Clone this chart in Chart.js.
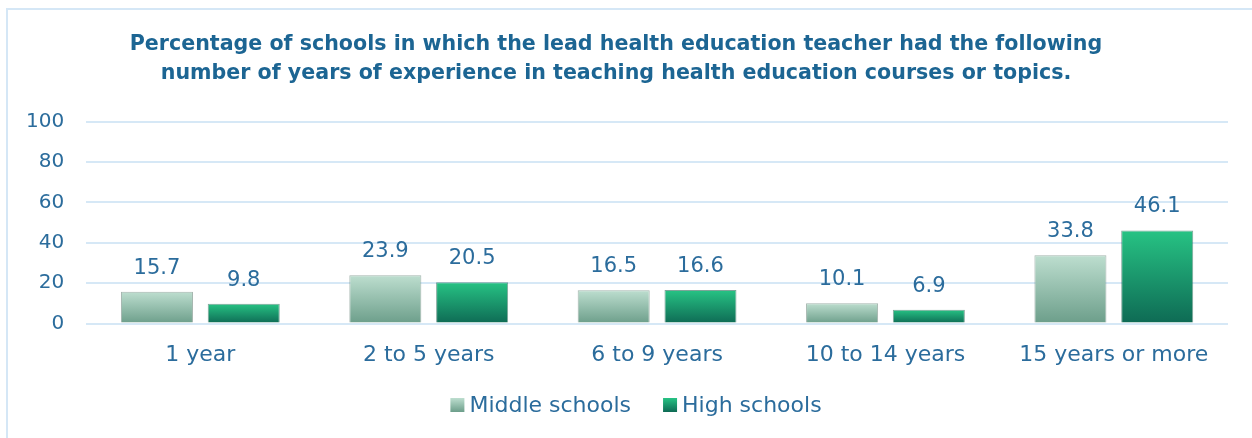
<!DOCTYPE html>
<html>
<head>
<meta charset="utf-8">
<script src="https://cdn.jsdelivr.net/npm/chart.js@4/dist/chart.umd.min.js"></script>
<style>
  html, body { margin: 0; padding: 0; background: #fff; }
  #wrap { position: relative; width: 1252px; height: 438px; }
  #frame { position: absolute; left: 6px; top: 8px; width: 1246px; height: 430px;
           border-left: 2px solid #d5e7f6; border-top: 2px solid #d5e7f6; box-sizing: border-box; }
  canvas { position: absolute; left: 0; top: 0; }
</style>
</head>
<body>
<div id="wrap">
  <div id="frame"></div>
  <canvas id="chart" width="1252" height="438"></canvas>
</div>
<script>
// Years of experience of the lead health education teacher
const categories = ['1 year', '2 to 5 years', '6 to 9 years', '10 to 14 years', '15 years or more'];
const middleSchools = [15.7, 23.9, 16.5, 10.1, 33.8];
const highSchools   = [9.8, 20.5, 16.6, 6.9, 46.1];
const seriesNames   = ['Middle schools', 'High schools'];
const yTicks = [0, 20, 40, 60, 80, 100];

const TEXT = '#2b6c9c';
const GRID = '#d6e8f6';
const BODY_FONT = "'DejaVu Sans', sans-serif";

// top/bottom colour stops for each series
const STOPS = [
  ['#bddecf', '#6c9e8a'],
  ['#27c384', '#0e6a54'],
];

function vGradient(ctx, top, bottom, stops) {
  const g = ctx.createLinearGradient(0, top, 0, bottom);
  g.addColorStop(0, stops[0]);
  g.addColorStop(1, stops[1]);
  return g;
}

// each bar fades from its own top down to the baseline
function barFill(idx) {
  return (c) => {
    const y = c.chart.scales.y;
    if (!y || c.raw == null) return STOPS[idx][0];
    const top = y.getPixelForValue(c.raw);
    const base = y.getPixelForValue(0);
    if (!isFinite(top) || !isFinite(base) || top === base) return STOPS[idx][0];
    return vGradient(c.chart.ctx, top, base, STOPS[idx]);
  };
}

// value labels above each bar
const valueLabels = {
  id: 'valueLabels',
  afterDatasetsDraw(chart) {
    const ctx = chart.ctx;
    ctx.save();
    ctx.font = '21px ' + BODY_FONT;
    ctx.fillStyle = TEXT;
    ctx.textAlign = 'center';
    ctx.textBaseline = 'alphabetic';
    chart.data.datasets.forEach((ds, i) => {
      chart.getDatasetMeta(i).data.forEach((bar, j) => {
        ctx.fillText(ds.data[j].toFixed(1), bar.x, bar.y - 18);
      });
    });
    ctx.restore();
  }
};

// legend row under the axis: small gradient swatch + series name
const seriesLegend = {
  id: 'seriesLegend',
  afterDraw(chart) {
    const ctx = chart.ctx;
    const box = 14, gap = 5, spacing = 32, cy = 405;
    ctx.save();
    ctx.font = '22px ' + BODY_FONT;
    ctx.textBaseline = 'middle';
    ctx.textAlign = 'left';
    const widths = seriesNames.map(n => ctx.measureText(n).width);
    const total = widths.reduce((s, w) => s + box + gap + w, 0) + spacing * (seriesNames.length - 1);
    let x = chart.width / 2 + 10 - total / 2;
    seriesNames.forEach((name, i) => {
      ctx.fillStyle = vGradient(ctx, cy - box / 2, cy + box / 2, STOPS[i]);
      ctx.fillRect(x, cy - box / 2, box, box);
      x += box + gap;
      ctx.fillStyle = TEXT;
      ctx.fillText(name, x, cy + 1);
      x += widths[i] + spacing;
    });
    ctx.restore();
  }
};

new Chart(document.getElementById('chart'), {
  type: 'bar',
  data: {
    labels: categories,
    datasets: [
      { label: seriesNames[0], data: middleSchools, backgroundColor: barFill(0),
        borderColor: 'rgba(90,120,108,0.55)', borderWidth: 1 },
      { label: seriesNames[1], data: highSchools, backgroundColor: barFill(1),
        borderColor: 'rgba(20,90,70,0.55)', borderWidth: 1 },
    ],
  },
  options: {
    responsive: false,
    animation: false,
    categoryPercentage: 0.76,
    barPercentage: 0.83,
    layout: { padding: { left: 4, right: 24, top: 0, bottom: 52 } },
    plugins: {
      title: {
        display: true,
        text: ['Percentage of schools in which the lead health education teacher had the following',
               'number of years of experience in teaching health education courses or topics.'],
        color: '#1c6593',
        font: { family: BODY_FONT, size: 20.6, weight: 'bold', lineHeight: 1.42 },
        padding: { top: 30, bottom: 33 },
      },
      legend: { display: false },
      tooltip: { enabled: false },
    },
    scales: {
      x: {
        grid: { display: false, drawTicks: false },
        border: { display: false },
        ticks: { color: TEXT, font: { family: BODY_FONT, size: 22 }, padding: 18 },
      },
      y: {
        min: 0,
        max: 100,
        afterBuildTicks: (axis) => { axis.ticks = yTicks.map(v => ({ value: v })); },
        grid: { color: GRID, lineWidth: 2, drawTicks: false },
        border: { display: false },
        ticks: { color: TEXT, font: { family: BODY_FONT, size: 20 }, padding: 22 },
      },
    },
  },
  plugins: [valueLabels, seriesLegend],
});
</script>
</body>
</html>
